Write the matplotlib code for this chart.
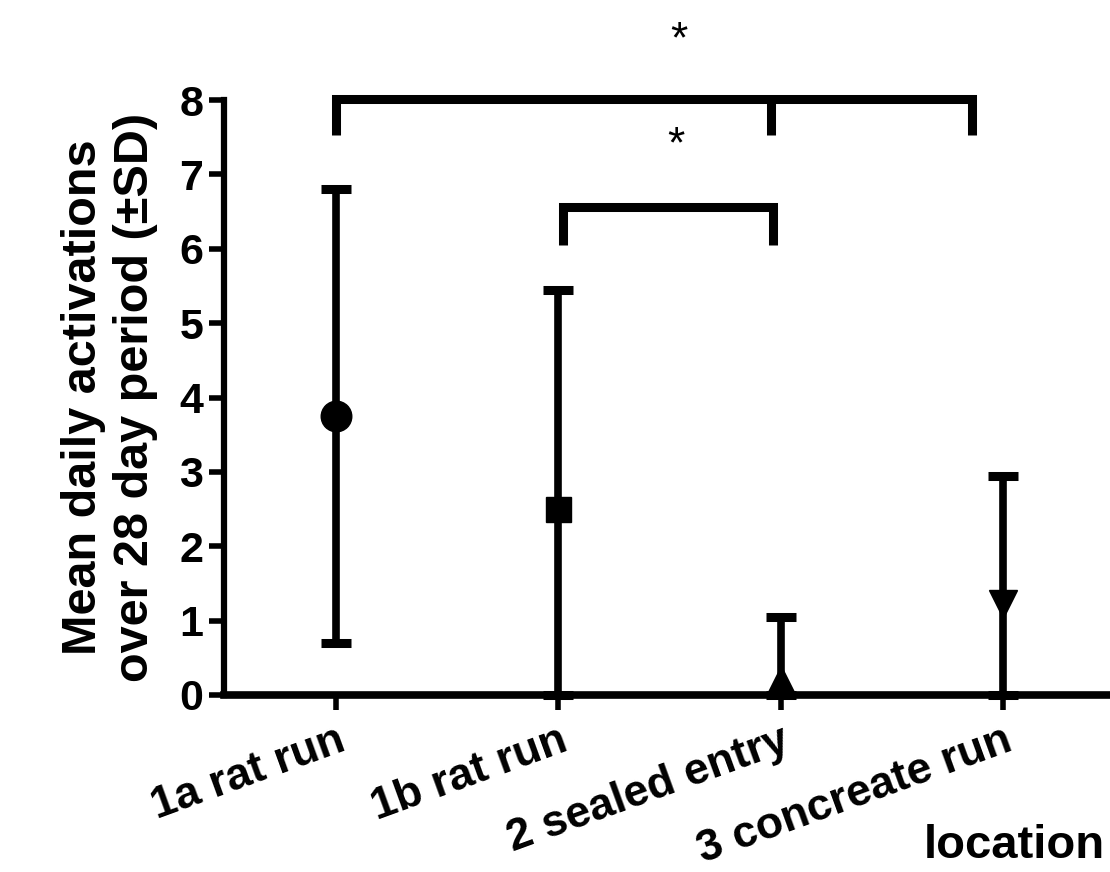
import matplotlib
matplotlib.use("Agg")
import matplotlib.pyplot as plt
import numpy as np

plt.rcParams["font.family"] = ["Liberation Sans", "DejaVu Sans"]
plt.rcParams["font.weight"] = "bold"

# Mean daily activations per location, with SD
locations = ["1a rat run", "1b rat run", "2 sealed entry", "3 concreate run"]
means = [3.75, 2.5, 0.2, 1.22]
sds = [3.05, 2.95, 0.85, 1.72]
markers = ["o", "s", "^", "v"]
marker_sizes = [22, 18, 20, 20]

# significance brackets: left x, mid x (or None), right x, bar y, leg bottom y
bracket_x = [(0.0, 1.955, 2.86), (1.02, None, 1.966)]
bracket_y = [(8.02, 7.53), (6.56, 6.05)]
# star positions above each bracket
star_x = [1.54, 1.53]
star_y = [8.8, 7.39]

fig = plt.figure(figsize=(11.1, 8.72), dpi=100)
ax = fig.add_axes([0.2018, 0.2030, 0.8018, 0.6823])

x = np.arange(len(locations))
for xi, m, sd, mk, ms in zip(x, means, sds, markers, marker_sizes):
    lower = min(sd, m)  # error bars are clipped at the axis
    ax.errorbar(xi, m, yerr=[[lower], [sd]], fmt=mk, color="black",
                markersize=ms, elinewidth=5.5, capsize=11, capthick=6.5,
                clip_on=False, zorder=3)

for (left, mid, right), (ybar, yleg), sx, sy in zip(bracket_x, bracket_y,
                                                    star_x, star_y):
    ax.plot([left, left, right, right], [yleg, ybar, ybar, yleg],
            color="black", lw=6.5, solid_joinstyle="miter",
            solid_capstyle="butt", clip_on=False)
    if mid is not None:
        ax.plot([mid, mid], [ybar, yleg], color="black", lw=6.5,
                solid_capstyle="butt", clip_on=False)
    ax.text(sx, sy, "*", ha="center", va="center", fontsize=32,
            fontweight="normal")

ax.set_xlim(-0.505, 3.5)
ax.set_ylim(0, 8)
ax.set_yticks(range(0, 9))
ax.set_xticks(x)
ax.set_xticklabels(locations, rotation=20, ha="right",
                   rotation_mode="anchor", fontsize=32)
ax.tick_params(axis="y", labelsize=31, width=4, length=11, pad=4)
ax.tick_params(axis="x", width=4, length=11, pad=7)

for side in ["top", "right"]:
    ax.spines[side].set_visible(False)
ax.spines["left"].set_linewidth(4.5)
ax.spines["bottom"].set_linewidth(5.5)

ax.set_ylabel("Mean daily activations\nover 28 day period (±SD)",
              fontsize=35, fontweight="bold", linespacing=1.2)
ax.yaxis.set_label_coords(-0.074, 0.5)

fig.text(0.914, 0.005, "location", ha="center", va="bottom",
         fontsize=34, fontweight="bold")

fig.savefig("out.png", dpi=100)
